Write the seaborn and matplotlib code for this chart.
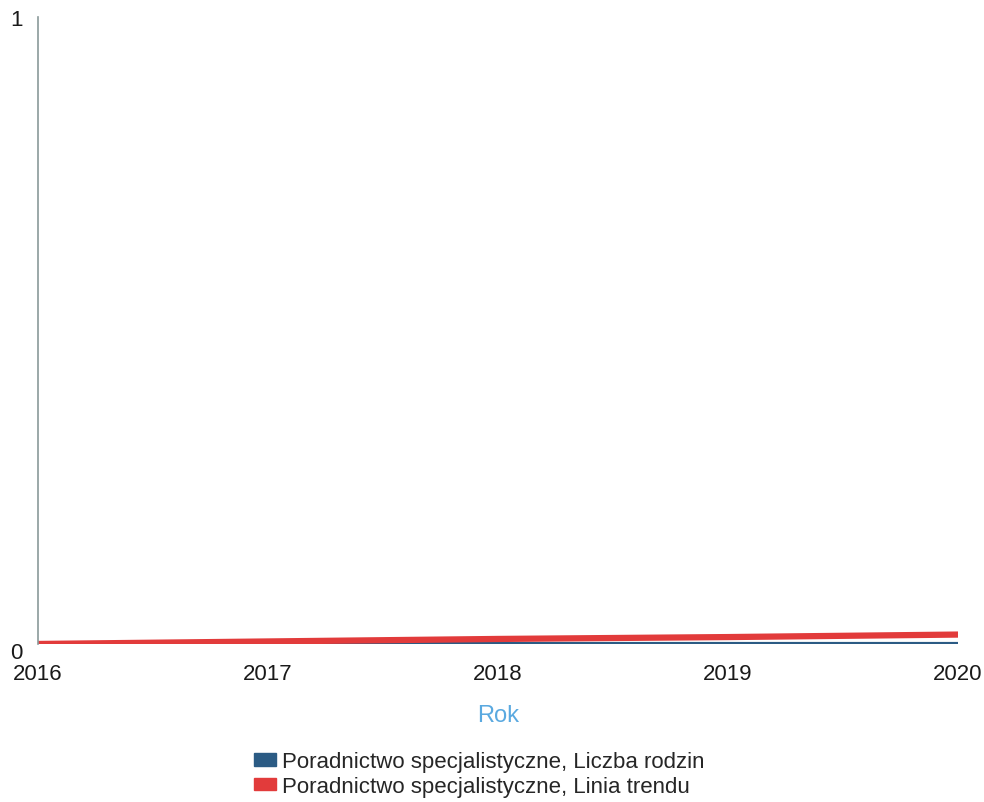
import matplotlib
matplotlib.use('Agg')
import matplotlib.pyplot as plt
from matplotlib.patches import Patch
from matplotlib.transforms import ScaledTranslation
import pandas as pd
import seaborn as sns

# Values
years = [2016, 2017, 2018, 2019, 2020]
liczba_rodzin = [0, 0, 0, 0, 0]
linia_trendu = [0.0, 0.004, 0.008, 0.011, 0.015]

series_names = ['Poradnictwo specjalistyczne, Liczba rodzin',
                'Poradnictwo specjalistyczne, Linia trendu']
colors = ['#2b5b84', '#e23b3b']

df = pd.DataFrame({'Rok': years + years,
                   'Wartość': liczba_rodzin + linia_trendu,
                   'Seria': [series_names[0]] * 5 + [series_names[1]] * 5})

sns.set_theme(style='white')
plt.rcParams['font.family'] = ['Liberation Sans', 'DejaVu Sans']

fig = plt.figure(figsize=(9.84, 8.03), dpi=100)
ax = fig.add_axes([0.0386, 0.1968, 0.935, 0.781])

sns.lineplot(data=df, x='Rok', y='Wartość', hue='Seria', palette=colors,
             linewidth=4.5, ax=ax, legend=False)
# the data line sits under the trend line
ax.lines[0].set_linewidth(3)

ax.set_xlim(2016, 2020)
ax.set_ylim(0, 1)
ax.set_xticks(years)
ax.set_xticklabels([str(y) for y in years], fontsize=16, color='#1a1a1a')
ax.set_yticks([0, 1])
ax.set_yticklabels(['0', '1'], fontsize=16, color='#1a1a1a')
ax.tick_params(axis='x', length=0, pad=14)
ax.tick_params(axis='y', length=0, pad=11)
# "0" sits a little below the axis line
zero_lbl = ax.get_yticklabels()[0]
zero_lbl.set_transform(zero_lbl.get_transform()
                       + ScaledTranslation(0, -4 / 72, fig.dpi_scale_trans))

ax.set_xlabel('Rok', fontsize=17, color='#5aa9e0', labelpad=14)
ax.set_ylabel('')

for side in ['top', 'right', 'bottom']:
    ax.spines[side].set_visible(False)
ax.spines['left'].set_color('#8a9a9a')
ax.spines['left'].set_linewidth(1.2)

handles = [Patch(facecolor=c, edgecolor=c) for c in colors]
fig.legend(handles, series_names, loc='upper center',
           bbox_to_anchor=(0.487, 0.074), frameon=False, fontsize=16,
           handlelength=1.0, handleheight=0.5, handletextpad=0.3,
           labelspacing=0.15, borderaxespad=0)

fig.savefig('out.png', dpi=100)
